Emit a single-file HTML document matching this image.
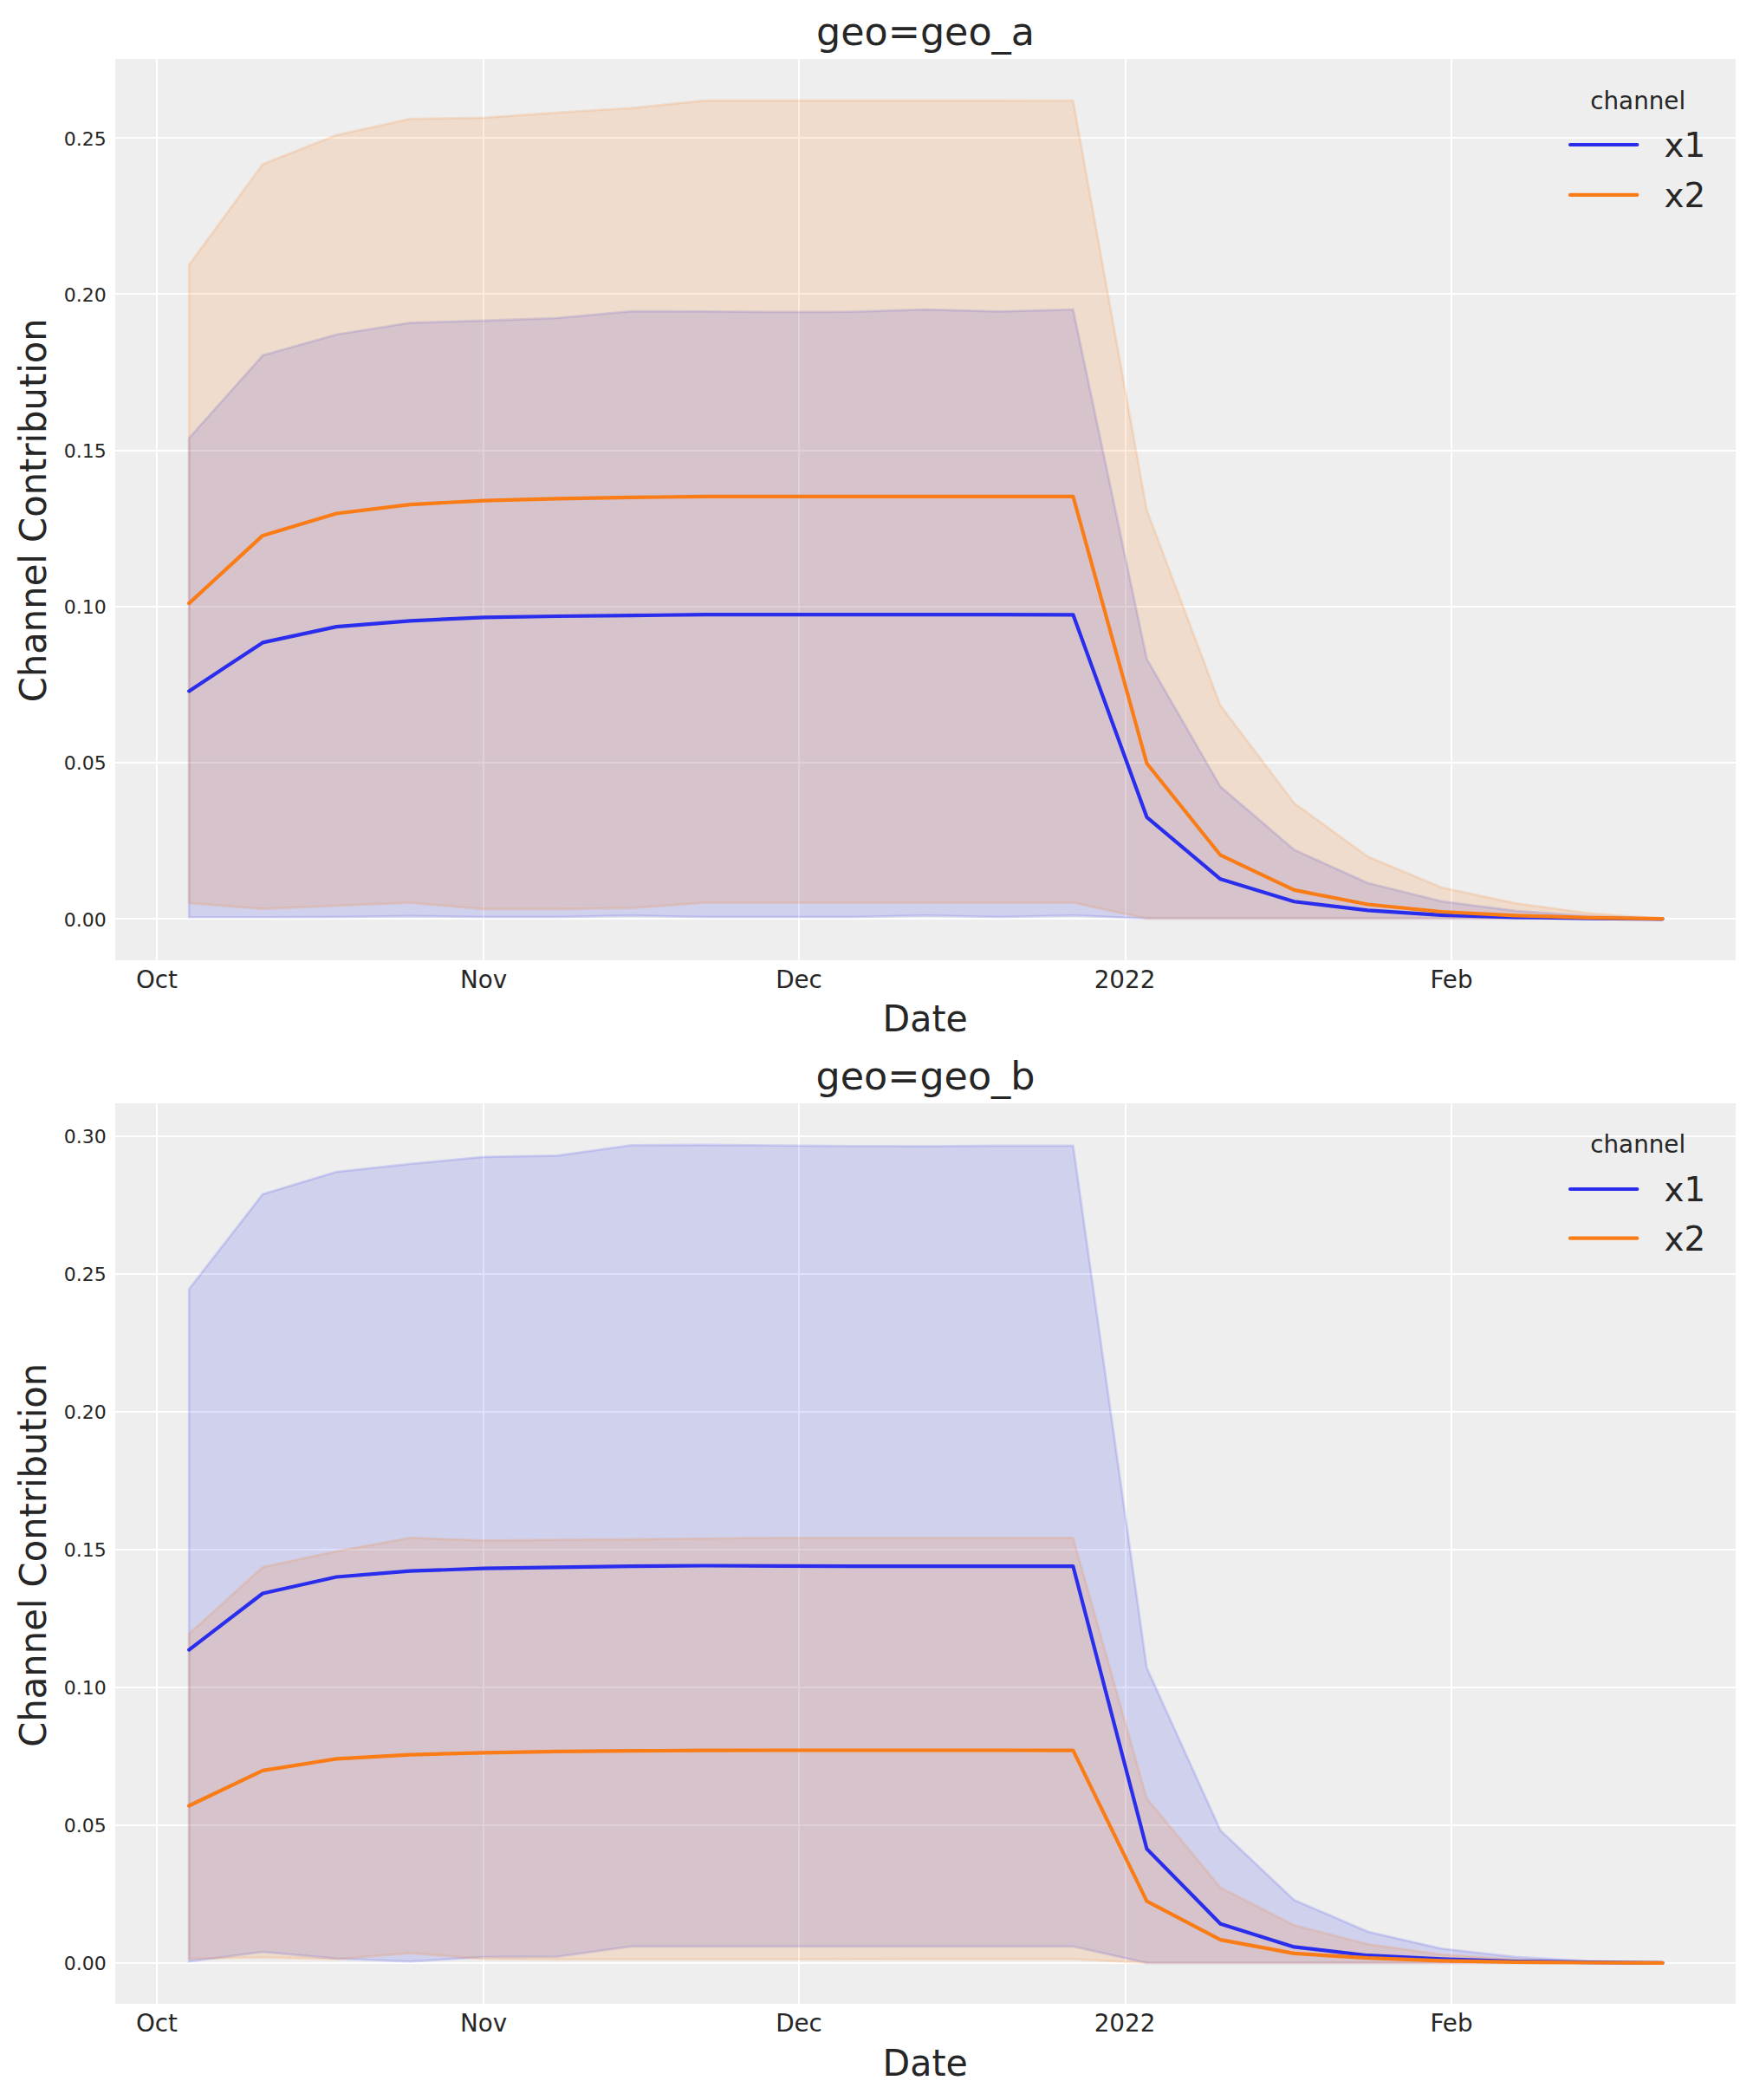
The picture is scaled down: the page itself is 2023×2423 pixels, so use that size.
<!DOCTYPE html>
<html lang="en"><head><meta charset="utf-8"><title>Channel Contribution</title>
<style>html,body{margin:0;padding:0;background:#fff}svg{display:block}text{font-family:"DejaVu Sans", "Liberation Sans", sans-serif;fill:#262626}</style></head><body>
<svg width="2023" height="2423" viewBox="0 0 2023 2423">
<rect width="2023" height="2423" fill="#ffffff"/>
<g id="axes1">
<rect x="133" y="68" width="1870" height="1040" fill="#eeeeee"/>
<path d="M179.95 68h2.1V1108h-2.1z M556.95 68h2.1V1108h-2.1z M920.95 68h2.1V1108h-2.1z M1297.95 68h2.1V1108h-2.1z M1673.95 68h2.1V1108h-2.1z M133 1058.95H2003v2.1H133z M133 878.95H2003v2.1H133z M133 698.95H2003v2.1H133z M133 518.95H2003v2.1H133z M133 337.95H2003v2.1H133z M133 157.95H2003v2.1H133z" fill="#ffffff"/>
<path d="M218.15 505.5 L303.17 410 L388.19 386 L473.21 372.5 L558.23 370 L643.25 366.9 L728.27 359.2 L813.29 359.3 L898.31 359.9 L983.33 359.7 L1068.35 357.1 L1153.37 359.3 L1238.39 357.2 L1323.41 760.3 L1408.43 907.6 L1493.45 980.4 L1578.47 1018.8 L1663.49 1039.9 L1748.51 1050.8 L1833.53 1057 L1918.55 1059.9 L1918.55 1059.9 L1833.53 1059.9 L1748.51 1059.9 L1663.49 1059.9 L1578.47 1059.9 L1493.45 1059.9 L1408.43 1059.9 L1323.41 1059.9 L1238.39 1056.3 L1153.37 1058.1 L1068.35 1056.3 L983.33 1058.1 L898.31 1058.1 L813.29 1058.1 L728.27 1056.5 L643.25 1058.1 L558.23 1058.1 L473.21 1057 L388.19 1058.1 L303.17 1058.3 L218.15 1058.3 Z" fill="#2a2eec" fill-opacity="0.15" stroke="#2a2eec" stroke-opacity="0.15" stroke-width="2.78" stroke-linejoin="miter"/>
<path d="M218.15 305.6 L303.17 189.5 L388.19 155.9 L473.21 137.2 L558.23 135.8 L643.25 129.9 L728.27 124.7 L813.29 116 L898.31 116 L983.33 116 L1068.35 116 L1153.37 116 L1238.39 116.2 L1323.41 588.4 L1408.43 814 L1493.45 926.5 L1578.47 988.3 L1663.49 1023.9 L1748.51 1042.1 L1833.53 1053.6 L1918.55 1059.9 L1918.55 1059.9 L1833.53 1059.9 L1748.51 1059.9 L1663.49 1059.9 L1578.47 1059.9 L1493.45 1059.9 L1408.43 1059.9 L1323.41 1059.9 L1238.39 1041.5 L1153.37 1041.7 L1068.35 1041.7 L983.33 1041.7 L898.31 1041.7 L813.29 1041.7 L728.27 1047.8 L643.25 1049 L558.23 1049 L473.21 1041.7 L388.19 1045.1 L303.17 1048.75 L218.15 1042.1 Z" fill="#fa7c17" fill-opacity="0.15" stroke="#fa7c17" stroke-opacity="0.15" stroke-width="2.78" stroke-linejoin="miter"/>
<path d="M218.15 797.4 L303.17 741.4 L388.19 723.1 L473.21 716.3 L558.23 712.3 L643.25 711 L728.27 710.1 L813.29 709.2 L898.31 709.2 L983.33 709.2 L1068.35 709.2 L1153.37 709.2 L1238.39 709.3 L1323.41 942.8 L1408.43 1014.3 L1493.45 1040.2 L1578.47 1050.4 L1663.49 1055.8 L1748.51 1058.3 L1833.53 1059.6 L1918.55 1060.3" fill="none" stroke="#2a2eec" stroke-width="4.17" stroke-linecap="round" stroke-linejoin="round"/>
<path d="M218.15 696.1 L303.17 617.9 L388.19 592.5 L473.21 582.1 L558.23 577.6 L643.25 575.3 L728.27 573.9 L813.29 572.9 L898.31 572.9 L983.33 572.9 L1068.35 572.9 L1153.37 572.9 L1238.39 572.8 L1323.41 880.8 L1408.43 986.7 L1493.45 1026.9 L1578.47 1043.5 L1663.49 1052 L1748.51 1056.3 L1833.53 1058.8 L1918.55 1060.05" fill="none" stroke="#fa7c17" stroke-width="4.17" stroke-linecap="round" stroke-linejoin="round"/>
<text x="1068.0" y="52.1" font-size="44.44" text-anchor="middle">geo=geo_a</text>
<text x="181" y="1140.3" font-size="27.78" text-anchor="middle">Oct</text>
<text x="558" y="1140.3" font-size="27.78" text-anchor="middle">Nov</text>
<text x="922" y="1140.3" font-size="27.78" text-anchor="middle">Dec</text>
<text x="1298" y="1140.3" font-size="27.78" text-anchor="middle">2022</text>
<text x="1675" y="1140.3" font-size="27.78" text-anchor="middle">Feb</text>
<text transform="translate(1067.7 1189.8) scale(0.986 1.03)" font-size="41.67" text-anchor="middle">Date</text>
<text transform="translate(122.7 1068.8) scale(0.99 0.97)" font-size="22.22" text-anchor="end">0.00</text>
<text transform="translate(122.7 887.8) scale(0.99 0.97)" font-size="22.22" text-anchor="end">0.05</text>
<text transform="translate(122.7 707.8) scale(0.99 0.97)" font-size="22.22" text-anchor="end">0.10</text>
<text transform="translate(122.7 527.8) scale(0.99 0.97)" font-size="22.22" text-anchor="end">0.15</text>
<text transform="translate(122.7 347.8) scale(0.99 0.97)" font-size="22.22" text-anchor="end">0.20</text>
<text transform="translate(122.7 167.8) scale(0.99 0.97)" font-size="22.22" text-anchor="end">0.25</text>
<text transform="translate(53.2 588.7) rotate(-90) scale(1 1.023)" font-size="41.67" text-anchor="middle">Channel Contribution</text>
<text x="1890.2" y="126.2" font-size="27.78" text-anchor="middle">channel</text>
<path d="M1812 167 H1889.3" stroke="#2a2eec" stroke-width="4.17" stroke-linecap="round" fill="none"/>
<text x="1920.6" y="181.3" font-size="38.89">x1</text>
<path d="M1812 224.9 H1889.3" stroke="#fa7c17" stroke-width="4.17" stroke-linecap="round" fill="none"/>
<text x="1920.6" y="239.3" font-size="38.89">x2</text>
</g>
<g id="axes2">
<rect x="133" y="1273" width="1870" height="1039" fill="#eeeeee"/>
<path d="M179.95 1273h2.1V2312h-2.1z M556.95 1273h2.1V2312h-2.1z M920.95 1273h2.1V2312h-2.1z M1297.95 1273h2.1V2312h-2.1z M1673.95 1273h2.1V2312h-2.1z M133 2263.95H2003v2.1H133z M133 2104.95H2003v2.1H133z M133 1945.95H2003v2.1H133z M133 1786.95H2003v2.1H133z M133 1627.95H2003v2.1H133z M133 1468.95H2003v2.1H133z M133 1309.95H2003v2.1H133z" fill="#ffffff"/>
<path d="M218.15 1487.4 L303.17 1377.85 L388.19 1352.1 L473.21 1342.9 L558.23 1334.8 L643.25 1333.3 L728.27 1321.4 L813.29 1321 L898.31 1321.7 L983.33 1322.4 L1068.35 1322.6 L1153.37 1321.9 L1238.39 1321.9 L1323.41 1924.4 L1408.43 2111.9 L1493.45 2192.2 L1578.47 2228.8 L1663.49 2248.3 L1748.51 2257.9 L1833.53 2262.7 L1918.55 2264.9 L1918.55 2264.9 L1833.53 2264.9 L1748.51 2264.9 L1663.49 2264.9 L1578.47 2264.9 L1493.45 2264.9 L1408.43 2264.9 L1323.41 2264.9 L1238.39 2245.8 L1153.37 2245.8 L1068.35 2245.8 L983.33 2245.8 L898.31 2245.8 L813.29 2245.8 L728.27 2245.8 L643.25 2257.6 L558.23 2258.1 L473.21 2263.3 L388.19 2259.8 L303.17 2252.2 L218.15 2263.2 Z" fill="#2a2eec" fill-opacity="0.15" stroke="#2a2eec" stroke-opacity="0.15" stroke-width="2.78" stroke-linejoin="miter"/>
<path d="M218.15 1885.1 L303.17 1808.1 L388.19 1789.8 L473.21 1774.3 L558.23 1777.3 L643.25 1776.7 L728.27 1776 L813.29 1775.1 L898.31 1774.4 L983.33 1774.4 L1068.35 1774.4 L1153.37 1774.4 L1238.39 1774.5 L1323.41 2075 L1408.43 2177.9 L1493.45 2221.3 L1578.47 2243.2 L1663.49 2255.1 L1748.51 2260.8 L1833.53 2263.6 L1918.55 2264.9 L1918.55 2264.9 L1833.53 2264.9 L1748.51 2264.9 L1663.49 2264.9 L1578.47 2264.9 L1493.45 2264.9 L1408.43 2264.9 L1323.41 2264.9 L1238.39 2260.6 L1153.37 2260.6 L1068.35 2260.6 L983.33 2260.7 L898.31 2260.8 L813.29 2260.8 L728.27 2260.8 L643.25 2260.8 L558.23 2260.4 L473.21 2253.5 L388.19 2260.6 L303.17 2258.5 L218.15 2260.1 Z" fill="#fa7c17" fill-opacity="0.15" stroke="#fa7c17" stroke-opacity="0.15" stroke-width="2.78" stroke-linejoin="miter"/>
<path d="M218.15 1903.6 L303.17 1838.5 L388.19 1819.5 L473.21 1812.7 L558.23 1809.7 L643.25 1808.4 L728.27 1807.2 L813.29 1806.5 L898.31 1806.9 L983.33 1807.1 L1068.35 1807.2 L1153.37 1807.2 L1238.39 1807.2 L1323.41 2133.2 L1408.43 2219.8 L1493.45 2246.4 L1578.47 2256.2 L1663.49 2260.4 L1748.51 2263 L1833.53 2264.2 L1918.55 2264.9" fill="none" stroke="#2a2eec" stroke-width="4.17" stroke-linecap="round" stroke-linejoin="round"/>
<path d="M218.15 2083.5 L303.17 2042.9 L388.19 2029.4 L473.21 2024.6 L558.23 2022.3 L643.25 2020.8 L728.27 2020.2 L813.29 2019.7 L898.31 2019.5 L983.33 2019.5 L1068.35 2019.5 L1153.37 2019.5 L1238.39 2019.6 L1323.41 2193.7 L1408.43 2238.1 L1493.45 2253.9 L1578.47 2259.2 L1663.49 2262.4 L1748.51 2263.8 L1833.53 2264.5 L1918.55 2264.9" fill="none" stroke="#fa7c17" stroke-width="4.17" stroke-linecap="round" stroke-linejoin="round"/>
<text x="1068.0" y="1257.1" font-size="44.44" text-anchor="middle">geo=geo_b</text>
<text x="181" y="2344.3" font-size="27.78" text-anchor="middle">Oct</text>
<text x="558" y="2344.3" font-size="27.78" text-anchor="middle">Nov</text>
<text x="922" y="2344.3" font-size="27.78" text-anchor="middle">Dec</text>
<text x="1298" y="2344.3" font-size="27.78" text-anchor="middle">2022</text>
<text x="1675" y="2344.3" font-size="27.78" text-anchor="middle">Feb</text>
<text transform="translate(1067.7 2394.8) scale(0.986 1.03)" font-size="41.67" text-anchor="middle">Date</text>
<text transform="translate(122.7 2272.8) scale(0.99 0.97)" font-size="22.22" text-anchor="end">0.00</text>
<text transform="translate(122.7 2113.8) scale(0.99 0.97)" font-size="22.22" text-anchor="end">0.05</text>
<text transform="translate(122.7 1954.8) scale(0.99 0.97)" font-size="22.22" text-anchor="end">0.10</text>
<text transform="translate(122.7 1795.8) scale(0.99 0.97)" font-size="22.22" text-anchor="end">0.15</text>
<text transform="translate(122.7 1636.8) scale(0.99 0.97)" font-size="22.22" text-anchor="end">0.20</text>
<text transform="translate(122.7 1477.8) scale(0.99 0.97)" font-size="22.22" text-anchor="end">0.25</text>
<text transform="translate(122.7 1318.8) scale(0.99 0.97)" font-size="22.22" text-anchor="end">0.30</text>
<text transform="translate(53.2 1794.2) rotate(-90) scale(1 1.023)" font-size="41.67" text-anchor="middle">Channel Contribution</text>
<text x="1890.2" y="1330" font-size="27.78" text-anchor="middle">channel</text>
<path d="M1812 1372 H1889.3" stroke="#2a2eec" stroke-width="4.17" stroke-linecap="round" fill="none"/>
<text x="1920.6" y="1386.3" font-size="38.89">x1</text>
<path d="M1812 1428.7 H1889.3" stroke="#fa7c17" stroke-width="4.17" stroke-linecap="round" fill="none"/>
<text x="1920.6" y="1443.1" font-size="38.89">x2</text>
</g>
</svg></body></html>
